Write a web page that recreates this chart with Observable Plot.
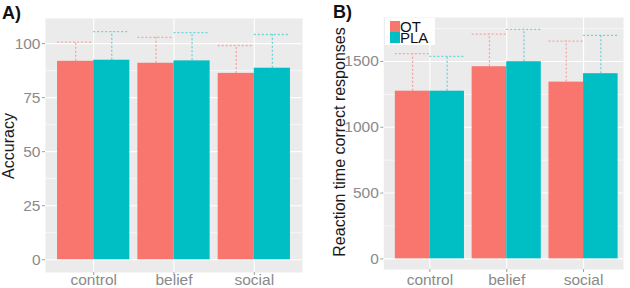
<!DOCTYPE html>
<html>
<head>
<meta charset="utf-8">
<script src="https://cdn.jsdelivr.net/npm/d3@7"></script>
<script src="https://cdn.jsdelivr.net/npm/@observablehq/plot@0.6"></script>
<style>
  html, body { margin: 0; padding: 0; background: #ffffff; }
  #wrap { position: relative; width: 630px; height: 288px; overflow: hidden; font-family: "Liberation Sans", Arial, sans-serif; }
  .panel { position: absolute; top: 0; }
  .tag { position: absolute; font-family: "Liberation Sans", Arial, sans-serif; font-weight: bold; font-size: 18px; color: #111; line-height: 1; }
  .ytitle { position: absolute; white-space: nowrap; font-size: 16px; color: #1a1a1a; line-height: 1; transform: translate(-50%, -50%) rotate(-90deg); }
  .legbox { position: absolute; background: #ffffff; }
  .sw { position: absolute; width: 10px; height: 11px; }
  .lt { position: absolute; font-size: 15px; color: #111; line-height: 11px; white-space: pre; }
</style>
</head>
<body>
<div id="wrap"></div>
<script>
// ---- data ----
const conditions = ["control", "belief", "social"];
const groups = ["OT", "PLA"];
const colors = ["#F8766D", "#00BFC4"];

const accuracyOT = [91.8, 90.9, 86.2];
const accuracyPLA = [92.3, 92.0, 88.6];
const accuracySdOT = [8.9, 12.0, 12.9];
const accuracySdPLA = [13.2, 13.1, 15.6];

const rtOT = [1274, 1460, 1343];
const rtPLA = [1274, 1498, 1407];
const rtSdOT = [285, 248, 312];
const rtSdPLA = [264, 246, 291];

const accTicks = [0, 25, 50, 75, 100];
const accMinor = [12.5, 37.5, 62.5, 87.5];
const rtTicks = [0, 500, 1000, 1500];
const rtMinor = [250, 750, 1250, 1750];

// ---- helpers ----
const dodge = 0.45;
function buildRows(ot, pla, sdOt, sdPla) {
  return conditions.flatMap((c, i) => groups.map((g, j) => {
    const v = j === 0 ? ot[i] : pla[i];
    const sd = j === 0 ? sdOt[i] : sdPla[i];
    const x1 = (i + 1) - dodge + j * dodge;
    return {cond: c, group: g, x1, x2: x1 + dodge, xc: x1 + dodge / 2, v, hi: v + sd};
  }));
}

function panel({rows, yDomain, xDomain, ticks, minor, width, height, margins, fmt, xPad}) {
  const errColor = g => g === "OT" ? "#f6a7a1" : "#6fd3d6";
  return Plot.plot({
    width, height,
    marginLeft: margins[0], marginRight: margins[1], marginTop: margins[2], marginBottom: margins[3],
    x: {type: "linear", domain: xDomain},
    y: {domain: yDomain},
    style: {fontFamily: "Liberation Sans, Arial, sans-serif", color: "#8a8a8a", background: "transparent", overflow: "visible"},
    marks: [
      Plot.frame({fill: "#ebebeb", stroke: null}),
      Plot.ruleY(minor, {stroke: "#ffffff", strokeWidth: 0.6}),
      Plot.ruleY(ticks, {stroke: "#ffffff", strokeWidth: 1.1}),
      Plot.ruleX([1, 2, 3], {stroke: "#ffffff", strokeWidth: 1.1}),
      Plot.ruleX(rows, {x: "xc", y1: "v", y2: "hi", stroke: d => errColor(d.group), strokeWidth: 1.3, strokeDasharray: "2,2"}),
      Plot.ruleY(rows, {y: "hi", x1: "x1", x2: "x2", stroke: d => errColor(d.group), strokeWidth: 1.3, strokeDasharray: "2,2"}),
      Plot.rectY(rows, {x1: "x1", x2: "x2", y1: 0, y2: "v", fill: d => colors[groups.indexOf(d.group)]}),
      Plot.axisY(ticks, {tickSize: 3, tickPadding: 2, fontSize: 15.5, label: null, tickFormat: fmt, stroke: "#a0a0a0"}),
      Plot.axisX([1, 2, 3], {tickSize: 3, tickPadding: xPad, fontSize: 15.5, label: null, tickFormat: i => conditions[i - 1], stroke: "#a0a0a0"})
    ]
  });
}

const wrap = document.getElementById("wrap");

const accRows = buildRows(accuracyOT, accuracyPLA, accuracySdOT, accuracySdPLA);
const rtRows = buildRows(rtOT, rtPLA, rtSdOT, rtSdPLA);

const pA = panel({rows: accRows, yDomain: [-5.9, 111.6], xDomain: [0.4, 3.6], ticks: accTicks, minor: accMinor,
  width: 315, height: 288, margins: [45, 13, 18, 16], fmt: d => String(d), xPad: -1.2});
pA.classList.add("panel"); pA.style.left = "0px";
wrap.appendChild(pA);

const pB = panel({rows: rtRows, yDomain: [-81, 1834], xDomain: [0.4, 3.52], ticks: rtTicks, minor: rtMinor,
  width: 315, height: 288, margins: [68.3, 7, 17, 19], fmt: d => String(d), xPad: 1.8});
pB.classList.add("panel"); pB.style.left = "315px";
wrap.appendChild(pB);

function addDiv(cls, text, css) {
  const d = document.createElement("div");
  d.className = cls;
  if (text) d.textContent = text;
  Object.assign(d.style, css);
  wrap.appendChild(d);
  return d;
}

addDiv("tag", "A)", {left: "2px", top: "4px"});
addDiv("tag", "B)", {left: "333px", top: "3px"});
addDiv("ytitle", "Accuracy", {left: "9px", top: "146px"});
addDiv("ytitle", "Reaction time correct responses", {left: "340px", top: "142px"});

// legend
addDiv("legbox", "", {left: "385px", top: "18px", width: "50px", height: "27px"});
groups.forEach((g, j) => {
  addDiv("sw", "", {left: "390px", top: (21 + j * 11) + "px", background: colors[j]});
});
addDiv("lt", groups.join("\n"), {left: "400px", top: "21px"});
</script>
</body>
</html>
